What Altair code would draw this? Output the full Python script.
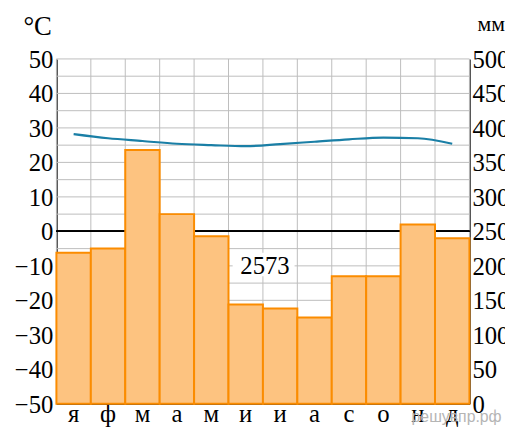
import altair as alt
import pandas as pd

months = ["я", "ф", "м", "а", "м", "и", "и", "а", "с", "о", "н", "д"]
precip_mm = [219, 225, 368, 275, 243, 144, 138, 125, 185, 185, 260, 240]
temp_c = [28.2, 27.0, 26.2, 25.4, 25.0, 24.7, 25.3, 26.0, 26.7, 27.2, 27.0, 25.4]
temp_ticks = [50, 40, 30, 20, 10, 0, -10, -20, -30, -40, -50]
temp_grid = [50, 45, 40, 35, 30, 25, 20, 15, 10, 5, 0, -5, -10, -15, -20, -25, -30, -35, -40, -45, -50]
mm_ticks = [500, 450, 400, 350, 300, 250, 200, 150, 100, 50, 0]
month_edges = [0, 1, 2, 3, 4, 5, 6, 7, 8, 9, 10, 11, 12]
total_label = "2573"
watermark = "решувпр.рф"

FONT = "Liberation Serif"
W, H = 418, 349

df = pd.DataFrame({
    "start": month_edges[:-1],
    "end": month_edges[1:],
    "mid": [(a + b) / 2 for a, b in zip(month_edges[:-1], month_edges[1:])],
    "month": months,
    "mm": precip_mm,
    "t": temp_c,
})
tgrid_df = pd.DataFrame({"v": temp_grid})
xgrid_df = pd.DataFrame({"v": month_edges})
tlab_df = pd.DataFrame({"v": temp_ticks, "lab": [str(v).replace("-", "\u2212") for v in temp_ticks]})
mlab_df = pd.DataFrame({"v": mm_ticks, "lab": [str(v) for v in mm_ticks]})

xscale = alt.Scale(domain=[0, 12], nice=False, zero=False)
tscale = alt.Scale(domain=[-50, 50], nice=False, zero=False)
mscale = alt.Scale(domain=[0, 500], nice=False, zero=False)

plain = dict(labels=False, ticks=False, grid=False, title=None,
             domainColor="black", domainWidth=1.5)

GRID = "#bdbdbd"

# --- temperature-scale group ---
tgrid = alt.Chart(tgrid_df).mark_rule(color=GRID, strokeWidth=1).encode(
    x=alt.value(0), x2=alt.value(W),
    y=alt.Y("v:Q", scale=tscale, axis=alt.Axis(orient="left", **plain)),
)
xgrid = alt.Chart(xgrid_df).mark_rule(color=GRID, strokeWidth=1).encode(
    x=alt.X("v:Q", scale=xscale, axis=alt.Axis(orient="bottom", **plain)),
    y=alt.value(0), y2=alt.value(H),
)
tlabels = alt.Chart(tlab_df).mark_text(
    font=FONT, fontSize=25, color="black", align="right", baseline="middle", dy=1
).encode(
    x=alt.value(-3),
    y=alt.Y("v:Q", scale=tscale),
    text="lab:N",
)
month_labels = alt.Chart(df).mark_text(
    font=FONT, fontSize=25, color="black", align="center", baseline="alphabetic"
).encode(
    x=alt.X("mid:Q", scale=xscale),
    y=alt.value(H + 18),
    text="month:N",
)

bars = alt.Chart(df).mark_bar(fill="#fdc380", stroke="#fb8c00", strokeWidth=2).encode(
    x=alt.X("start:Q", scale=xscale),
    x2="end:Q",
    y=alt.Y("mm:Q", scale=mscale, axis=alt.Axis(orient="right", **plain)),
    y2=alt.datum(0),
)
mlabels = alt.Chart(mlab_df).mark_text(
    font=FONT, fontSize=25, color="black", align="left", baseline="middle", dy=1
).encode(
    x=alt.value(W + 3),
    y=alt.Y("v:Q", scale=mscale),
    text="lab:N",
)
mm_group = alt.layer(bars, mlabels)

zero_line = alt.Chart(df).mark_rule(color="black", strokeWidth=1.5).encode(
    x=alt.value(0), x2=alt.value(W),
    y=alt.Y(datum=0, scale=tscale),
)

temp_line = alt.Chart(df).mark_line(color="#1a7fa6", strokeWidth=2.2, interpolate="monotone").encode(
    x=alt.X("mid:Q", scale=xscale),
    y=alt.Y("t:Q", scale=tscale),
)

label_df = pd.DataFrame({"txt": [total_label]})
label_box = alt.Chart(label_df).mark_rect(fill="white").encode(
    x=alt.X(datum=5.12, scale=xscale),
    x2=alt.datum(6.92),
    y=alt.Y(datum=-6.2, scale=tscale),
    y2=alt.datum(-13.0),
)
label_txt = alt.Chart(label_df).mark_text(
    font=FONT, fontSize=25, color="black", baseline="middle", align="center", dy=1
).encode(
    x=alt.X(datum=6.06, scale=xscale),
    y=alt.Y(datum=-9.7, scale=tscale),
    text="txt:N",
)

t_title = alt.Chart(pd.DataFrame({"txt": ["°C"]})).mark_text(
    font=FONT, fontSize=27, color="black", align="center", baseline="alphabetic"
).encode(x=alt.value(-19), y=alt.value(-24), text="txt:N")
m_title = alt.Chart(pd.DataFrame({"txt": ["мм"]})).mark_text(
    font=FONT, fontSize=22, color="black", align="center", baseline="alphabetic"
).encode(x=alt.value(440), y=alt.value(-28), text="txt:N")

wm = alt.Chart(pd.DataFrame({"txt": [watermark]})).mark_text(
    font="Liberation Sans", fontSize=16, color="#b5b5b5", align="center", baseline="alphabetic"
).encode(x=alt.value(405), y=alt.value(367), text="txt:N")

temp_group = alt.layer(tgrid, xgrid, zero_line, temp_line, label_box, label_txt,
                       tlabels, month_labels, t_title, m_title, wm)

chart = alt.layer(temp_group, mm_group).resolve_scale(y="independent").properties(
    width=W, height=H,
    autosize=alt.AutoSizeParams(type="none"),
    padding={"left": 49, "top": 49, "right": 36, "bottom": 27},
).configure_view(stroke=None)

chart.save("out.html", embed_options={"renderer": "svg", "actions": False})
